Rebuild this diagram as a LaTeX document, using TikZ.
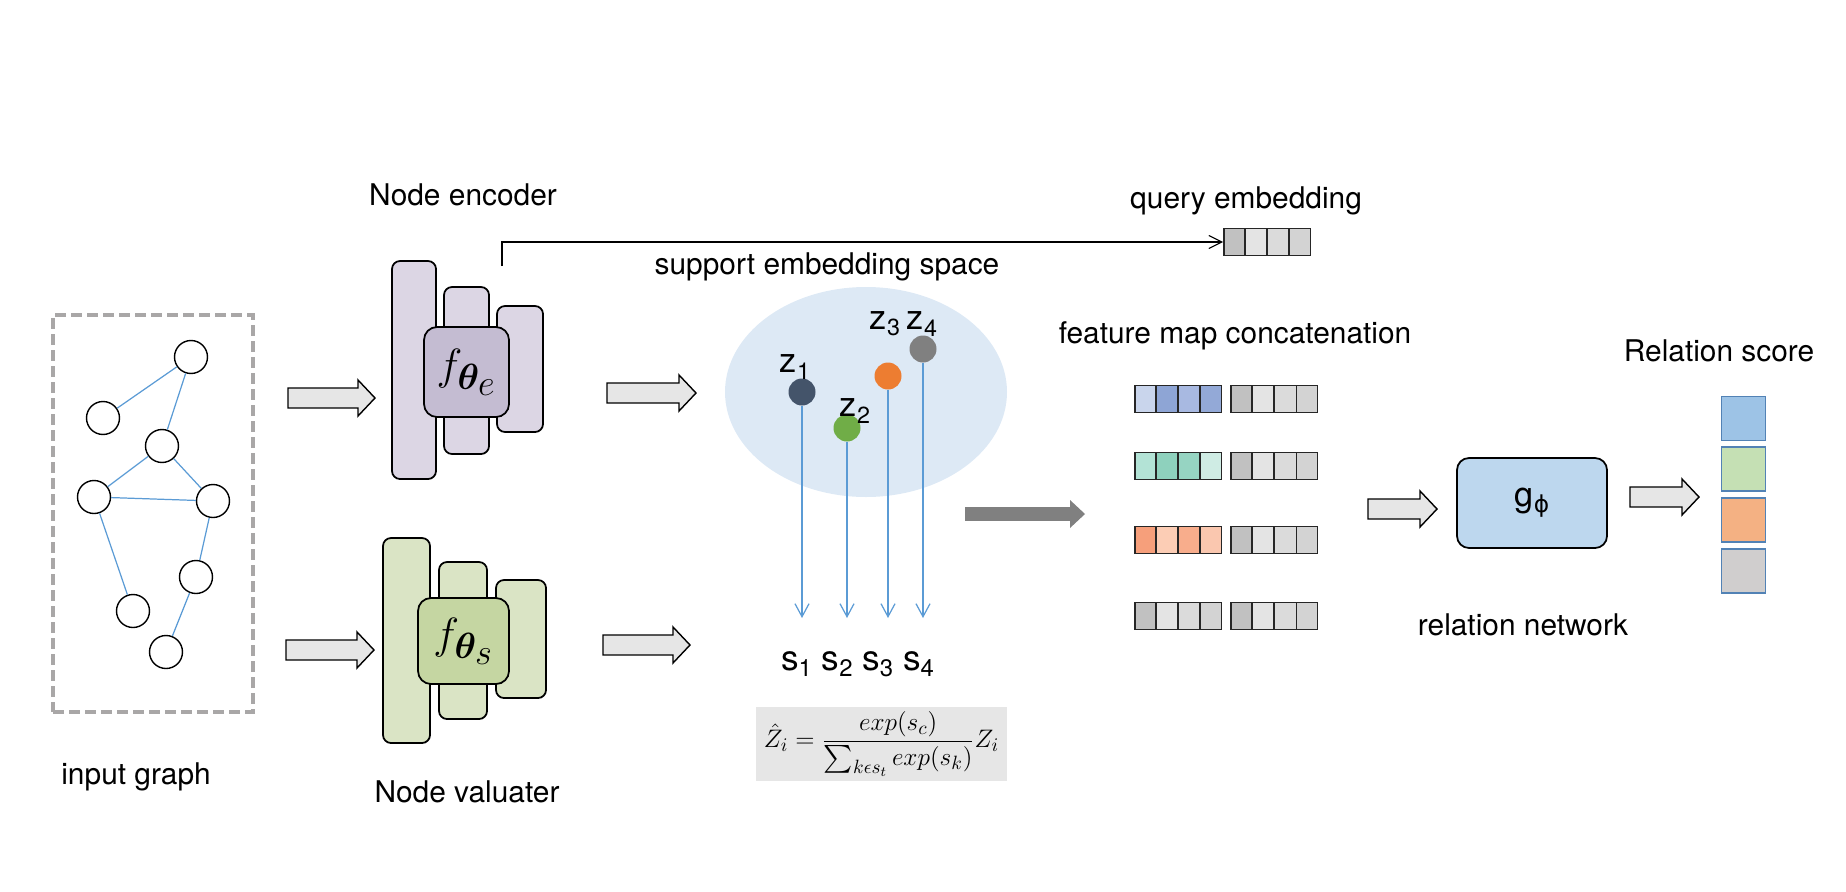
\documentclass[tikz,border=0pt]{standalone}
\usepackage{amsmath,amssymb}
\usepackage{bm}
\usepackage{graphicx}
\usepackage{fontspec}
\setmainfont{TeX Gyre Heros}
\newfontfamily\phifont{DejaVu Sans}
\usepackage{tikz}
\usetikzlibrary{arrows.meta,positioning,calc,shapes.geometric,shapes.multipart}
\definecolor{edgeblue}{HTML}{5B9BD5}
\definecolor{dashgray}{HTML}{A9A7A7}
\definecolor{arrowfill}{HTML}{E6E6E6}
\definecolor{enclight}{HTML}{DCD6E4}
\definecolor{encdark}{HTML}{C4BCD2}
\definecolor{vallight}{HTML}{DAE4C5}
\definecolor{valdark}{HTML}{C5D6A2}
\definecolor{spacebg}{HTML}{DDE9F5}
\definecolor{zone}{HTML}{44546A}
\definecolor{ztwo}{HTML}{70AD47}
\definecolor{zthree}{HTML}{ED7D31}
\definecolor{zfour}{HTML}{808080}
\definecolor{formbg}{HTML}{E6E6E6}
\definecolor{flowgray}{HTML}{808080}
\definecolor{q1}{HTML}{C1C1C1}
\definecolor{q2}{HTML}{E4E4E4}
\definecolor{q3}{HTML}{DBDBDB}
\definecolor{q4}{HTML}{D3D3D3}
\definecolor{b1}{HTML}{C9D5EC}
\definecolor{b2}{HTML}{8EA5D5}
\definecolor{b3}{HTML}{A8B9E1}
\definecolor{b4}{HTML}{93A9D7}
\definecolor{t1}{HTML}{B3E3D6}
\definecolor{t2}{HTML}{8ED1BD}
\definecolor{t3}{HTML}{96D4C2}
\definecolor{t4}{HTML}{CFECE4}
\definecolor{o1}{HTML}{F69F7B}
\definecolor{o2}{HTML}{FCCDB5}
\definecolor{o3}{HTML}{F8AD8C}
\definecolor{o4}{HTML}{FAC7AF}
\definecolor{gblue}{HTML}{BDD7EE}
\definecolor{scoreedge}{HTML}{5282B5}
\definecolor{sc1}{HTML}{9DC3E6}
\definecolor{sc2}{HTML}{C5E0B4}
\definecolor{sc3}{HTML}{F4B183}
\definecolor{sc4}{HTML}{D0CECE}
\tikzset{
  lbl/.style={font=\fontsize{17}{20}\selectfont,inner sep=1pt},
  sym/.style={font=\fontsize{19.5}{22}\selectfont,inner sep=1pt},
  gnode/.style={circle,draw=black,fill=white,minimum size=.66cm,inner sep=0pt,line width=.8pt},
  gedge/.style={draw=edgeblue,line width=.7pt},
  layer/.style={draw=black,rounded corners=.16cm,line width=1pt,inner sep=0pt},
  core/.style={draw=black,rounded corners=.26cm,line width=1pt,inner sep=0pt,font=\fontsize{29}{32}\selectfont},
  hollowarrow/.style={draw=black,fill=arrowfill,line width=.8pt,line join=miter,
    to path={let \p1=(\tikztostart),\p2=(\tikztotarget) in
      (\x1,\y1+.2cm) -- (\x2-.34cm,\y1+.2cm) -- (\x2-.34cm,\y1+.36cm) -- (\x2,\y1)
      -- (\x2-.34cm,\y1-.36cm) -- (\x2-.34cm,\y1-.2cm) -- (\x1,\y1-.2cm) -- cycle}},
  embdot/.style={circle,minimum size=.54cm,inner sep=0pt},
  proj/.style={draw=edgeblue,line width=.7pt,-{Straight Barb[length=2.6mm,width=2.8mm]}},
  qline/.style={draw=black,line width=.6pt,-{Straight Barb[length=2.6mm,width=2.6mm]}},
  bigflow/.style={draw=flowgray,line width=.28cm,-{Triangle[length=.3cm,width=.56cm,line width=0pt]}},
  strip/.style={rectangle split,rectangle split horizontal,rectangle split parts=4,
    rectangle split empty part width=.225cm,rectangle split empty part height=.27cm,
    rectangle split empty part depth=.27cm,
    draw=black!85,line width=.9pt,inner sep=0pt,anchor=west},
  scorebox/.style={draw=scoreedge,line width=1.1pt,minimum size=.88cm,inner sep=0pt},
}
\newcommand{\lsub}[1]{\raisebox{-.18em}{\scalebox{.68}{#1}}}

\begin{document}
\begin{tikzpicture}[x=1cm,y=1cm]
  \useasboundingbox (0,0) rectangle (36.92,-17.84);

  % input graph
  \node[draw=dashgray,dash pattern=on .22cm off .1cm,line width=2.3pt,
    minimum width=4cm,minimum height=7.94cm] (graphbox) at (3.06,-10.27) {};
  \node[gnode] (v1) at (3.82,-7.14) {};
  \node[gnode] (v2) at (2.06,-8.36) {};
  \node[gnode] (v3) at (3.24,-8.92) {};
  \node[gnode] (v4) at (1.88,-9.94) {};
  \node[gnode] (v5) at (4.26,-10.02) {};
  \node[gnode] (v6) at (3.92,-11.54) {};
  \node[gnode] (v7) at (2.66,-12.22) {};
  \node[gnode] (v8) at (3.32,-13.04) {};
  \draw[gedge] (v1)--(v2) (v1)--(v3) (v3)--(v4) (v3)--(v5) (v4)--(v5)
    (v4)--(v7) (v5)--(v6) (v6)--(v8);
  \node[lbl] (graphlab) at (2.72,-15.54) {input graph};

  % node encoder
  \node[lbl] (enclab) at (9.26,-3.90) {Node encoder};
  \node[layer,fill=enclight,minimum width=.88cm,minimum height=4.36cm] (enc1) at (8.28,-7.40) {};
  \node[layer,fill=enclight,minimum width=.90cm,minimum height=3.34cm] (enc2) at (9.33,-7.41) {};
  \node[layer,fill=enclight,minimum width=.92cm,minimum height=2.52cm] (enc3) at (10.40,-7.38) {};
  \node[core,fill=encdark,minimum width=1.70cm,minimum height=1.80cm] (enccore) at (9.33,-7.44)
    {$f_{\bm{\theta}_{\scriptstyle e}}$};

  % node valuater
  \node[layer,fill=vallight,minimum width=.94cm,minimum height=4.10cm] (val1) at (8.13,-12.81) {};
  \node[layer,fill=vallight,minimum width=.96cm,minimum height=3.14cm] (val2) at (9.26,-12.81) {};
  \node[layer,fill=vallight,minimum width=1.00cm,minimum height=2.36cm] (val3) at (10.42,-12.78) {};
  \node[core,fill=valdark,minimum width=1.82cm,minimum height=1.72cm] (valcore) at (9.27,-12.82)
    {$f_{\bm{\theta}_{\scriptstyle s}}$};
  \node[lbl] (vallab) at (9.34,-15.84) {Node valuater};

  % hollow arrows
  \coordinate (a1s) at (5.76,-7.96);   \coordinate (a1e) at (7.50,-7.96);
  \coordinate (a2s) at (5.72,-13.00);  \coordinate (a2e) at (7.48,-13.00);
  \coordinate (a3s) at (12.14,-7.86);  \coordinate (a3e) at (13.92,-7.86);
  \coordinate (a4s) at (12.06,-12.90); \coordinate (a4e) at (13.80,-12.90);
  \coordinate (a5s) at (27.36,-10.18); \coordinate (a5e) at (28.74,-10.18);
  \coordinate (a6s) at (32.60,-9.94);  \coordinate (a6e) at (33.98,-9.94);
  \draw[hollowarrow] (a1s) to (a1e);
  \draw[hollowarrow] (a2s) to (a2e);
  \draw[hollowarrow] (a3s) to (a3e);
  \draw[hollowarrow] (a4s) to (a4e);
  \draw[hollowarrow] (a5s) to (a5e);
  \draw[hollowarrow] (a6s) to (a6e);

  % query embedding
  \node[lbl] (querylab) at (24.92,-4.02) {query embedding};
  \node[strip,rectangle split part fill={q1,q2,q3,q4}] (query) at (24.46,-4.84) {};
  \coordinate (qstart) at (10.04,-5.32);
  \draw[qline] (qstart) |- (query.west);

  % support embedding space
  \node[lbl] (spacelab) at (16.54,-5.34) {support embedding space};
  \node[ellipse,fill=spacebg,minimum width=5.64cm,minimum height=4.2cm] (space) at (17.32,-7.84) {};
  \node[embdot,fill=zone] (z1) at (16.04,-7.84) {};
  \node[embdot,fill=ztwo] (z2) at (16.94,-8.56) {};
  \node[embdot,fill=zthree] (z3) at (17.76,-7.52) {};
  \node[embdot,fill=zfour] (z4) at (18.46,-6.98) {};
  \node[sym] (z1lab) at (15.90,-7.34) {z\lsub{1}};
  \node[sym] (z2lab) at (17.10,-8.22) {z\lsub{2}};
  \node[sym] (z3lab) at (17.70,-6.48) {z\lsub{3}};
  \node[sym] (z4lab) at (18.44,-6.48) {z\lsub{4}};
  \coordinate (sline) at (17,-12.36);
  \draw[proj] (z1.south) -- (z1 |- sline);
  \draw[proj] (z2.south) -- (z2 |- sline);
  \draw[proj] (z3.south) -- (z3 |- sline);
  \draw[proj] (z4.south) -- (z4 |- sline);
  \node[sym,font=\fontsize{20}{22}\selectfont] (slab) at (17.15,-13.28)
    {s\lsub{1} s\lsub{2} s\lsub{3} s\lsub{4}};
  \node[fill=formbg,minimum width=5.02cm,minimum height=1.48cm,inner sep=0pt,
    font=\fontsize{15.8}{18}\selectfont] (softmax) at (17.63,-14.88)
    {$\hat{Z}_i=\dfrac{exp(s_c)}{\sum_{k\epsilon s_t}exp(s_k)}Z_i$};

  % feature map concatenation
  \coordinate (mapin) at (19.30,-10.28);
  \coordinate (mapout) at (21.70,-10.28);
  \draw[bigflow] (mapin) -- (mapout);
  \node[lbl] (maplab) at (24.70,-6.72) {feature map concatenation};
  \node[strip,rectangle split part fill={b1,b2,b3,b4}] (row1l) at (22.68,-7.98) {};
  \node[strip,rectangle split part fill={q1,q2,q3,q4},right=.16cm of row1l] (row1r) {};
  \node[strip,rectangle split part fill={t1,t2,t3,t4}] (row2l) at (22.68,-9.32) {};
  \node[strip,rectangle split part fill={q1,q2,q3,q4},right=.16cm of row2l] (row2r) {};
  \node[strip,rectangle split part fill={o1,o2,o3,o4}] (row3l) at (22.68,-10.80) {};
  \node[strip,rectangle split part fill={q1,q2,q3,q4},right=.16cm of row3l] (row3r) {};
  \node[strip,rectangle split part fill={q1,q2,q3,q4}] (row4l) at (22.68,-12.32) {};
  \node[strip,rectangle split part fill={q1,q2,q3,q4},right=.16cm of row4l] (row4r) {};

  % relation network
  \node[draw=black,line width=1pt,rounded corners=.24cm,fill=gblue,minimum width=3cm,
    minimum height=1.8cm,font=\fontsize{19.5}{22}\selectfont] (relnet) at (30.64,-10.06)
    {g\lsub{\phifont ϕ}};
  \node[lbl] (rellab) at (30.46,-12.50) {relation network};

  % relation score
  \node[lbl] (scorelab) at (34.38,-7.02) {Relation score};
  \node[scorebox,fill=sc1] (score1) at (34.87,-8.37) {};
  \node[scorebox,fill=sc2,below=.1cm of score1] (score2) {};
  \node[scorebox,fill=sc3,below=.1cm of score2] (score3) {};
  \node[scorebox,fill=sc4,below=.1cm of score3] (score4) {};
\end{tikzpicture}
\end{document}
